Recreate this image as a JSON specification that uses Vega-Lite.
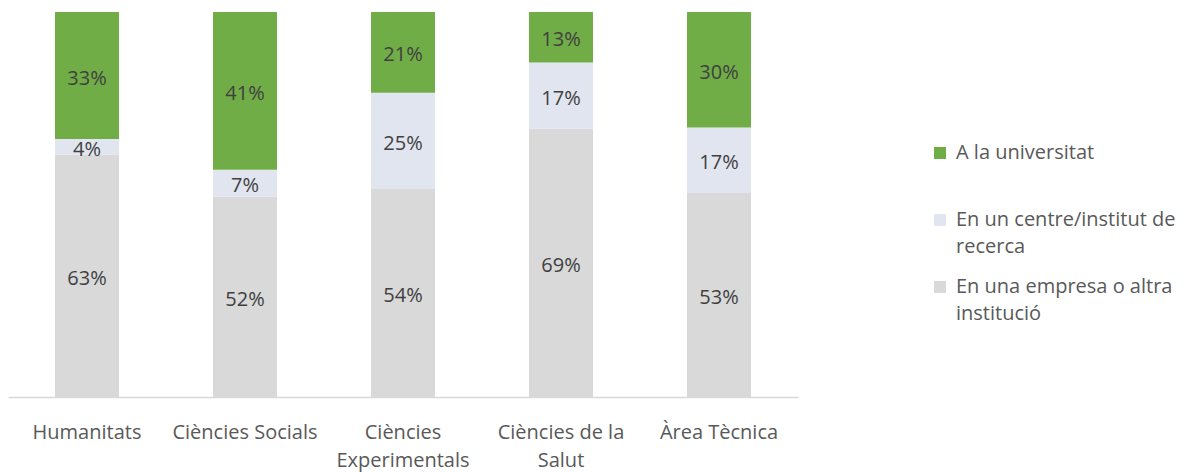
{
  "$schema": "https://vega.github.io/schema/vega-lite/v6.json",
  "autosize": {"type": "none"},
  "width": 790,
  "height": 385,
  "padding": {"left": 8, "top": 12, "right": 387, "bottom": 75},
  "background": "white",
  "config": {"view": {"stroke": null}, "font": "Open Sans"},
  "data": {"values": [
    {"area": "Humanitats", "cat": "En una empresa o altra institució", "pos": 1, "value": 63, "label": "63%"},
    {"area": "Humanitats", "cat": "En un centre/institut de recerca", "pos": 2, "value": 4, "label": "4%"},
    {"area": "Humanitats", "cat": "A la universitat", "pos": 3, "value": 33, "label": "33%"},
    {"area": "Ciències Socials", "cat": "En una empresa o altra institució", "pos": 1, "value": 52, "label": "52%"},
    {"area": "Ciències Socials", "cat": "En un centre/institut de recerca", "pos": 2, "value": 7, "label": "7%"},
    {"area": "Ciències Socials", "cat": "A la universitat", "pos": 3, "value": 41, "label": "41%"},
    {"area": "Ciències Experimentals", "cat": "En una empresa o altra institució", "pos": 1, "value": 54, "label": "54%"},
    {"area": "Ciències Experimentals", "cat": "En un centre/institut de recerca", "pos": 2, "value": 25, "label": "25%"},
    {"area": "Ciències Experimentals", "cat": "A la universitat", "pos": 3, "value": 21, "label": "21%"},
    {"area": "Ciències de la Salut", "cat": "En una empresa o altra institució", "pos": 1, "value": 69, "label": "69%"},
    {"area": "Ciències de la Salut", "cat": "En un centre/institut de recerca", "pos": 2, "value": 17, "label": "17%"},
    {"area": "Ciències de la Salut", "cat": "A la universitat", "pos": 3, "value": 13, "label": "13%"},
    {"area": "Àrea Tècnica", "cat": "En una empresa o altra institució", "pos": 1, "value": 53, "label": "53%"},
    {"area": "Àrea Tècnica", "cat": "En un centre/institut de recerca", "pos": 2, "value": 17, "label": "17%"},
    {"area": "Àrea Tècnica", "cat": "A la universitat", "pos": 3, "value": 30, "label": "30%"}
  ]},
  "encoding": {
    "x": {
      "field": "area", "type": "nominal", "sort": null,
      "scale": {"paddingInner": 0.595, "paddingOuter": 0.2975},
      "axis": {
        "title": null, "labelAngle": 0, "ticks": false, "domainColor": "#d9d9d9", "domainWidth": 1.5,
        "labelFontSize": 20, "labelColor": "#595959", "labelPadding": 25, "labelLineHeight": 28,
        "labelBaseline": "top", "labelLimit": 200,
        "labelExpr": "datum.label == 'Ciències Experimentals' ? ['Ciències', 'Experimentals'] : datum.label == 'Ciències de la Salut' ? ['Ciències de la', 'Salut'] : datum.label"
      }
    },
    "y": {"field": "value", "type": "quantitative", "stack": "normalize", "axis": null, "scale": {"domain": [0, 1]}},
    "order": {"field": "pos", "type": "quantitative"}
  },
  "layer": [
    {
      "mark": {"type": "bar"},
      "encoding": {
        "color": {
          "field": "cat", "type": "nominal",
          "scale": {
            "domain": ["A la universitat", "En un centre/institut de recerca", "En una empresa o altra institució"],
            "range": ["#70ad47", "#e0e5ef", "#d9d9d9"]
          },
          "legend": {
            "title": null, "orient": "none", "legendX": 922, "legendY": 131,
            "symbolType": "square", "symbolSize": 144, "symbolStrokeWidth": 0,
            "labelFontSize": 20, "labelColor": "#595959", "labelLimit": 300,
            "labelOffset": 6, "rowPadding": 20, "gridAlign": "all",
            "labelExpr": "datum.label == 'En un centre/institut de recerca' ? ['En un centre/institut de', 'recerca'] : datum.label == 'En una empresa o altra institució' ? ['En una empresa o altra', 'institució'] : datum.label",
            "encode": {"labels": {"update": {"lineHeight": {"value": 27}}}}
          }
        }
      }
    },
    {
      "mark": {"type": "text", "fontSize": 20, "color": "#404040", "dy": 3},
      "encoding": {
        "y": {"field": "value", "type": "quantitative", "stack": "normalize", "bandPosition": 0.5},
        "text": {"field": "label"}
      }
    }
  ]
}
